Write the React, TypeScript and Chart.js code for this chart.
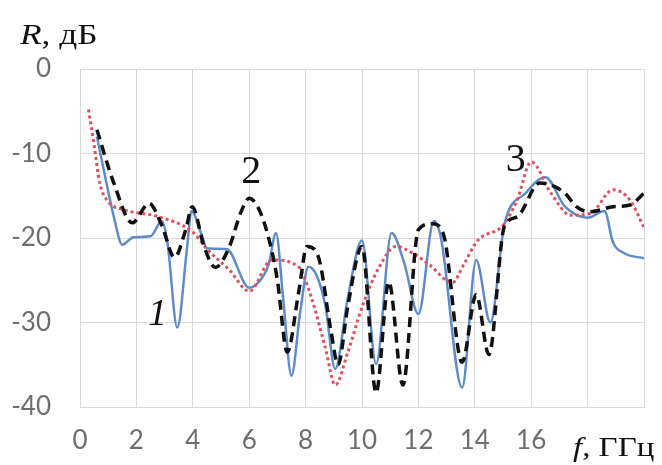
import React, { useEffect, useRef } from "react";
import { Chart, registerables } from "chart.js";

Chart.register(...registerables);

// Series 1 (solid blue)
const freq1 = [0.6, 1.0, 1.2, 1.5, 1.9, 2.5, 2.9, 3.1, 3.45, 3.8, 3.95, 4.3, 4.5, 5.2, 6.0, 6.5, 6.7, 6.95, 7.2, 7.5, 7.8, 8.1, 8.4, 8.7, 9.05, 9.5, 10.0, 10.5, 11.05, 11.5, 12.0, 12.55, 12.8, 13.55, 14.05, 14.55, 15.05, 15.8, 16.5, 17.2, 18.0, 18.6, 18.9, 19.3, 20.0];
const r1 = [-8.0, -14.5, -17.5, -20.8, -19.9, -19.8, -18.0, -20.5, -30.6, -21, -16.8, -19.5, -21.2, -21.3, -25.9, -24.5, -23, -19.4, -27, -36.3, -29, -23.4, -24.5, -28, -35.5, -27, -20.3, -34.9, -19.4, -23, -29, -18.0, -20, -37.7, -22.6, -30, -18.4, -14.7, -12.8, -16.3, -17.6, -16.8, -20.5, -21.8, -22.4];

// Series 2 (dashed black)
const freq2 = [0.6, 1.2, 1.85, 2.45, 2.9, 3.35, 3.75, 3.98, 4.4, 4.8, 5.3, 5.7, 6.0, 6.4, 6.8, 7.0, 7.35, 7.75, 8.05, 8.45, 8.9, 9.15, 9.5, 10.0, 10.5, 10.95, 11.45, 12.0, 12.5, 12.9, 13.55, 14.05, 14.5, 15.05, 15.5, 16.3, 17.2, 17.6, 18.1, 18.9, 19.5, 20.0];
const r2 = [-7.2, -13.5, -18.2, -15.9, -18.5, -22.3, -19, -16.3, -21, -23.5, -21, -17, -15.3, -17, -21.5, -25, -33.5, -26.5, -21, -22.2, -31, -35, -28, -21, -38.3, -25.2, -37.4, -19, -18.3, -19.7, -34.7, -26.7, -33.8, -18.6, -17.5, -13.5, -14.7, -16.3, -16.9, -16.3, -16.1, -14.7];

// Series 3 (dotted red)
const freq3 = [0.3, 0.5, 0.7, 1.0, 1.5, 2.8, 4.0, 4.5, 5.3, 6.0, 6.8, 7.75, 8.2, 8.7, 9.05, 9.5, 10.0, 10.6, 11.2, 11.8, 12.4, 13.2, 13.6, 14.1, 15.0, 15.5, 16.0, 16.7, 17.4, 18.1, 18.9, 19.5, 20.0];
const r3 = [-4.8, -9, -13.5, -15.7, -16.6, -17.5, -19.3, -21.3, -23.8, -26.3, -22.6, -23.4, -27, -33, -37.4, -33.5, -28.2, -23.5, -21, -21.8, -23.2, -25.3, -23.2, -20.3, -18.5, -15.5, -11, -14.7, -17.3, -17.1, -14.3, -15.5, -18.8];

const xTicksShown = [0, 2, 4, 6, 8, 10, 12, 14, 16];
const curveLabels = ["1", "2", "3"];
const curveLabelAt = [
  [2.75, -29.1],
  [6.07, -12.2],
  [15.45, -10.8],
];

const toPts = (xs: number[], ys: number[]) => xs.map((x, i) => ({ x, y: ys[i] }));

function drawStretched(ctx: any, parts: [string, boolean][], x: number, y: number, size: number, sx: number) {
  ctx.save();
  ctx.translate(x, y);
  ctx.scale(sx, 1);
  let off = 0;
  for (const [t, italic] of parts) {
    ctx.font = `${italic ? "italic " : ""}${size}px 'Liberation Serif'`;
    ctx.fillText(t, off, 0);
    off += ctx.measureText(t).width;
  }
  ctx.restore();
}

export default function App() {
  const ref = useRef<HTMLCanvasElement>(null);
  useEffect(() => {
    if (!ref.current) return;
    const textPlugin = {
      id: "texts",
      afterDraw(chart: any) {
        const ctx = chart.ctx;
        const xs = chart.scales.x;
        const ys = chart.scales.y;
        ctx.save();
        ctx.fillStyle = "#111";
        ctx.textBaseline = "alphabetic";
        ctx.textAlign = "left";
        drawStretched(ctx, [["R", true], [", дБ", false]], 20, 44, 29, 1.22);
        drawStretched(ctx, [["f", true], [", ГГц", false]], 573, 456, 27, 1.22);
        ctx.textAlign = "center";
        ctx.textBaseline = "middle";
        curveLabels.forEach((t, i) => {
          ctx.font = i === 0 ? "italic 38px 'Liberation Serif'" : "40px 'Liberation Serif'";
          ctx.fillText(t, xs.getPixelForValue(curveLabelAt[i][0]), ys.getPixelForValue(curveLabelAt[i][1]));
        });
        ctx.restore();
      },
    };
    const chart = new Chart(ref.current, {
      type: "line",
      data: {
        datasets: [
          {
            label: "2",
            data: toPts(freq2, r2),
            borderColor: "#111111",
            borderWidth: 3.5,
            borderDash: [10, 6],
            pointRadius: 0,
            cubicInterpolationMode: "monotone",
            fill: false,
          },
          {
            label: "3",
            data: toPts(freq3, r3),
            borderColor: "#e0505e",
            borderWidth: 3,
            borderDash: [3, 3],
            pointRadius: 0,
            cubicInterpolationMode: "monotone",
            fill: false,
          },
          {
            label: "1",
            data: toPts(freq1, r1),
            borderColor: "#5f8cc8",
            borderWidth: 2.5,
            pointRadius: 0,
            cubicInterpolationMode: "monotone",
            fill: false,
          },
        ],
      },
      options: {
        animation: false,
        responsive: false,
        maintainAspectRatio: false,
        layout: { padding: { top: 69, right: 14, left: 0, bottom: 0 } },
        plugins: { legend: { display: false }, tooltip: { enabled: false } },
        scales: {
          x: {
            type: "linear",
            min: 0,
            max: 20,
            afterFit: (s: any) => {
              s.height = 58;
            },
            grid: { color: "#d9d9d9", lineWidth: 1, drawTicks: false },
            border: { color: "#d9d9d9" },
            ticks: {
              stepSize: 2,
              padding: 18,
              color: "#6e6e6e",
              font: { family: "Lato", size: 26 },
              maxRotation: 0,
              autoSkip: false,
              callback: (v: any) => (xTicksShown.includes(Number(v)) ? String(v) : ""),
            },
          },
          y: {
            min: -40,
            max: 0,
            afterFit: (s: any) => {
              s.width = 80;
            },
            grid: { color: "#d9d9d9", lineWidth: 1, drawTicks: false },
            border: { color: "#d9d9d9" },
            ticks: {
              stepSize: 10,
              padding: 29,
              color: "#6e6e6e",
              font: { family: "Lato", size: 26 },
            },
          },
        },
      },
      plugins: [textPlugin],
    });
    return () => chart.destroy();
  }, []);
  return (
    <div style={{ position: "fixed", left: 0, top: 0, width: 662, height: 465, background: "#fff" }}>
      <canvas ref={ref} width={662} height={465} style={{ width: 662, height: 465 }} />
    </div>
  );
}
